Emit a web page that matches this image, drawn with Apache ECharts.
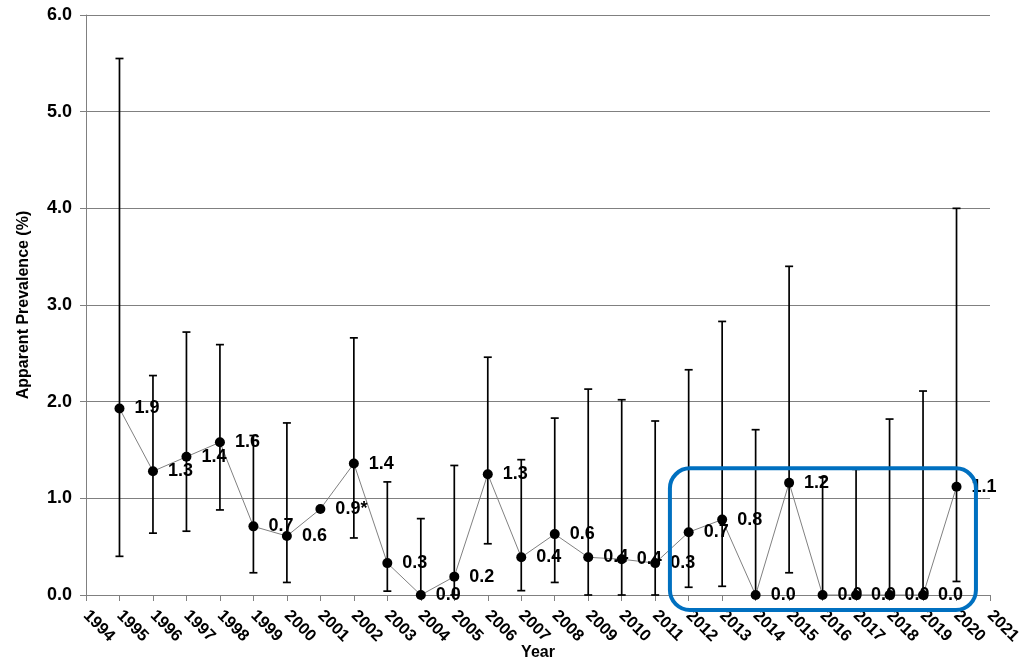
<!DOCTYPE html>
<html>
<head>
<meta charset="utf-8">
<script src="https://cdn.jsdelivr.net/npm/echarts@6/dist/echarts.min.js"></script>
<style>
html,body{margin:0;padding:0;background:#fff;}
#chart{width:1030px;height:661px;}
</style>
</head>
<body>
<div id="chart"></div>
<script>
// Axis categories (tick labels)
const yearTicks = ['1994','1995','1996','1997','1998','1999','2000','2001','2002','2003','2004','2005','2006','2007','2008','2009','2010','2011','2012','2013','2014','2015','2016','2017','2018','2019','2020','2021'];
// Survey years with data
const years = ['1995','1996','1997','1998','1999','2000','2001','2002','2003','2004','2005','2006','2007','2008','2009','2010','2011','2012','2013','2014','2015','2016','2017','2018','2019','2020'];
// Apparent prevalence (%)
const prevalence = [1.93,1.28,1.43,1.58,0.71,0.61,0.89,1.36,0.33,0.00,0.19,1.25,0.39,0.63,0.39,0.37,0.33,0.65,0.78,0.00,1.16,0.00,0.00,0.00,0.00,1.12];
// Point labels as printed
const pointLabels = ['1.9','1.3','1.4','1.6','0.7','0.6','0.9*','1.4','0.3','0.0','0.2','1.3','0.4','0.6','0.4','0.4','0.3','0.7','0.8','0.0','1.2','0.0','0.0','0.0','0.0','1.1'];
// Confidence interval bounds (null = no interval)
const ciLower = [0.40,0.64,0.66,0.88,0.23,0.13,null,0.59,0.04,0.00,0.00,0.53,0.045,0.13,0.00,0.00,0.00,0.08,0.09,0.00,0.23,0.00,0.00,0.00,0.00,0.14];
const ciUpper = [5.55,2.27,2.72,2.59,1.65,1.78,null,2.66,1.17,0.79,1.34,2.46,1.40,1.83,2.13,2.02,1.80,2.33,2.83,1.71,3.40,1.22,1.30,1.82,2.11,4.00];
// Highlight box extent (category index range, value range)
const boxRange = {x0: 17.44, x1: 26.58, y0: -0.155, y1: 1.31};

const FONT = 'Liberation Sans, Arial, sans-serif';
const chart = echarts.init(document.getElementById('chart'), null, {renderer: 'canvas'});

const lineData = yearTicks.map(t => {
  const i = years.indexOf(t);
  return i >= 0 ? prevalence[i] : '-';
});
const errData = [];
years.forEach((y, i) => {
  if (ciLower[i] !== null) errData.push([yearTicks.indexOf(y), ciLower[i], ciUpper[i]]);
});

const option = {
  backgroundColor: '#fff',
  animation: false,
  grid: {left: 86, right: 40, top: 15, bottom: 66, containLabel: false, outerBoundsMode: 'none'},
  xAxis: {
    type: 'category',
    data: yearTicks,
    boundaryGap: false,
    name: 'Year',
    nameLocation: 'middle',
    nameGap: 50,
    nameMoveOverlap: false,
    nameTextStyle: {fontFamily: FONT, fontWeight: 'bold', fontSize: 16, color: '#000'},
    axisLine: {lineStyle: {color: '#808080', width: 1}},
    axisTick: {show: true, inside: false, length: 6, interval: 0, lineStyle: {color: '#808080'}},
    axisLabel: {interval: 0, rotate: -45, margin: 18, fontFamily: FONT, fontWeight: 'bold', fontSize: 16.5, color: '#000'},
    splitLine: {show: false}
  },
  yAxis: {
    type: 'value',
    min: 0, max: 6, interval: 1,
    name: 'Apparent Prevalence (%)',
    nameLocation: 'middle',
    nameGap: 54,
    nameRotate: 90,
    nameMoveOverlap: false,
    nameTextStyle: {fontFamily: FONT, fontWeight: 'bold', fontSize: 16, color: '#000'},
    axisLine: {show: true, lineStyle: {color: '#808080', width: 1}},
    axisTick: {show: true, inside: false, length: 6, lineStyle: {color: '#808080'}},
    axisLabel: {formatter: v => v.toFixed(1), margin: 14, fontFamily: FONT, fontWeight: 'bold', fontSize: 18, color: '#000'},
    splitLine: {show: true, lineStyle: {color: '#808080', width: 1}}
  },
  series: [
    {
      type: 'custom',
      name: 'CI',
      data: errData,
      encode: {x: 0, y: [1, 2]},
      z: 2,
      renderItem: function (params, api) {
        const x = api.value(0);
        const lo = api.coord([x, api.value(1)]);
        const hi = api.coord([x, api.value(2)]);
        const cap = 4;
        const st = {stroke: '#000', lineWidth: 1.7};
        return {
          type: 'group',
          children: [
            {type: 'line', shape: {x1: lo[0], y1: lo[1], x2: hi[0], y2: hi[1]}, style: st},
            {type: 'line', shape: {x1: hi[0] - cap, y1: hi[1], x2: hi[0] + cap, y2: hi[1]}, style: st},
            {type: 'line', shape: {x1: lo[0] - cap, y1: lo[1], x2: lo[0] + cap, y2: lo[1]}, style: st}
          ]
        };
      }
    },
    {
      type: 'line',
      name: 'Prevalence',
      data: lineData,
      z: 3,
      symbol: 'circle',
      symbolSize: 10,
      showAllSymbol: true,
      lineStyle: {color: '#808080', width: 1},
      itemStyle: {color: '#000'},
      label: {
        show: true,
        position: 'right',
        distance: 10,
        fontFamily: FONT,
        fontWeight: 'bold',
        fontSize: 18,
        color: '#000',
        formatter: p => {
          const i = years.indexOf(yearTicks[p.dataIndex]);
          return i >= 0 ? pointLabels[i] : '';
        }
      }
    }
  ]
};
chart.setOption(option);

// Highlight box placed through the axes' scales
const px0 = chart.convertToPixel({xAxisIndex: 0}, 0);
const px1 = chart.convertToPixel({xAxisIndex: 0}, yearTicks.length - 1);
const step = (px1 - px0) / (yearTicks.length - 1);
const bx0 = px0 + boxRange.x0 * step;
const bx1 = px0 + boxRange.x1 * step;
const by0 = chart.convertToPixel({yAxisIndex: 0}, boxRange.y1);
const by1 = chart.convertToPixel({yAxisIndex: 0}, boxRange.y0);
chart.setOption({
  graphic: [{
    type: 'rect',
    z: 10,
    shape: {x: bx0, y: by0, width: bx1 - bx0, height: by1 - by0, r: 20},
    style: {fill: 'none', stroke: '#0070C0', lineWidth: 4}
  }]
});
</script>
</body>
</html>
